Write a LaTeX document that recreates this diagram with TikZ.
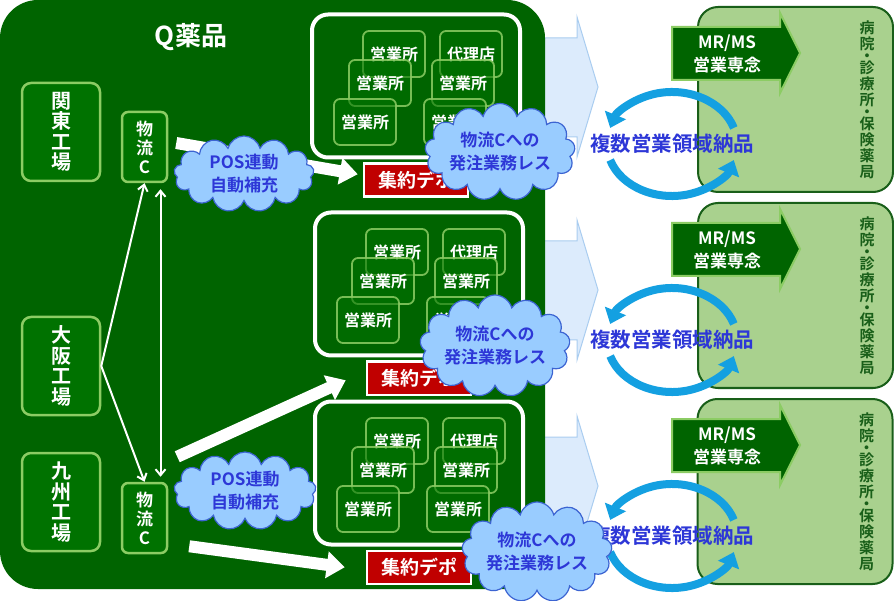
\documentclass[tikz,border=0pt]{standalone}
\usepackage{fontspec}
\setmainfont{Noto Sans CJK JP}[BoldFont={Noto Sans CJK JP Bold}]
\usepackage{tikz}
\usetikzlibrary{shapes.symbols,arrows.meta,positioning}
\usepackage{xcolor}
\definecolor{panel}{RGB}{0,100,0}
\definecolor{boxgreen}{RGB}{0,114,0}
\definecolor{lime}{RGB}{140,204,100}
\definecolor{depred}{RGB}{192,0,0}
\definecolor{puff}{RGB}{153,204,255}
\definecolor{puffline}{RGB}{60,100,210}
\definecolor{bluetext}{RGB}{45,55,215}
\definecolor{paleblue}{RGB}{220,235,252}
\definecolor{palerim}{RGB}{170,205,240}
\definecolor{clinic}{RGB}{169,209,142}
\definecolor{clinicrim}{RGB}{25,95,25}
\definecolor{loopblue}{RGB}{20,160,225}
\newcommand\fsz[2]{\fontsize{#1}{#2}\selectfont}

\begin{document}
\begin{tikzpicture}[x=1pt,y=-1pt,
  factory/.style={draw=lime,fill=boxgreen,line width=2.5pt,rounded corners=9pt,
    minimum width=78pt,minimum height=98pt,inner sep=0pt,text=white,
    font=\bfseries\fsz{20}{20.5},align=center},
  lc/.style={draw=lime,fill=boxgreen,line width=2.5pt,rounded corners=6pt,
    minimum width=45pt,minimum height=70pt,inner sep=0pt,text=white,
    font=\bfseries\fsz{17}{19},align=center},
  frame/.style={draw=white,line width=4pt,rounded corners=16pt,
    minimum width=208pt,minimum height=143pt},
  office/.style={draw=lime,draw opacity=0.85,fill=boxgreen,fill opacity=0.55,
    text opacity=1,line width=1.8pt,rounded corners=6pt,minimum width=62pt,
    minimum height=46pt,inner sep=0pt,text=white,font=\bfseries\fsz{16}{18}},
  depot/.style={fill=depred,draw=white,line width=2.5pt,minimum width=104pt,
    minimum height=33pt,inner sep=0pt,text=white,font=\bfseries\fsz{19}{20}},
  thinarr/.style={draw=white,line width=2pt,-{Straight Barb[length=6pt,width=10pt]}},
  fatarrow/.style={draw=white,line width=12pt,-{Triangle[length=18pt,width=26pt]}},
  bubble/.style={cloud,cloud puffs=13,cloud ignores aspect,draw=puffline,fill=puff,
    line width=1.2pt,inner sep=0pt,text=bluetext,font=\bfseries\fsz{17}{23},align=center},
  clinicbox/.style={draw=clinicrim,fill=clinic,line width=2pt,rounded corners=20pt,
    minimum width=195pt,minimum height=185pt},
  hosp/.style={text=clinicrim,font=\bfseries\fsz{15}{16},align=center,inner sep=0pt},
  mrarrow/.style={draw=lime,fill=panel,line width=2pt},
  loop/.style={draw=loopblue,line width=8pt,-{Triangle[length=14pt,width=22pt]}}]

\useasboundingbox (0,0) rectangle (894,601);
\fill[white] (0,0) rectangle (894,601);

\foreach \dy in {0,203,399}
  \filldraw[fill=paleblue,draw=palerim,line width=1pt]
    (530,{38+\dy}) -- (577,{38+\dy}) -- (577,{17+\dy}) -- (598,{87+\dy})
    -- (577,{157+\dy}) -- (577,{137+\dy}) -- (530,{137+\dy}) -- cycle;

\fill[panel,rounded corners=38pt] (0,0) rectangle (545,589);
\node[text=white,font=\bfseries\fsz{26}{30}] (title) at (191,37) {Q薬品};

\node[factory] (kanto) at (61,132) {関\\東\\工\\場};
\node[factory] (osaka) at (61,366) {大\\阪\\工\\場};
\node[factory] (kyushu) at (61,502) {九\\州\\工\\場};
\node[lc] (lc1) at (144.5,147) {物\\流\\C};
\node[lc] (lc2) at (144.5,518) {物\\流\\C};

\node[frame] (grp1) at (416,86) {};
\node[frame] (grp2) at (419,284) {};
\node[frame] (grp3) at (419,473) {};
\foreach \g in {1,2,3}{
  \node[office] (off\g-1) at ([shift={(-22,-32)}]grp\g) {営業所};
  \node[office] (off\g-2) at ([shift={(55,-32)}]grp\g) {代理店};
  \node[office] (off\g-3) at ([shift={(-36,-3)}]grp\g) {営業所};
  \node[office] (off\g-4) at ([shift={(47,-3)}]grp\g) {営業所};
  \node[office] (off\g-5) at ([shift={(-51,36)}]grp\g) {営業所};
  \node[office] (off\g-6) at ([shift={(39,36)}]grp\g) {営業所};
}
\node[depot,below=3pt of grp1] (depo1) {集約デポ};
\node[depot,below=3pt of grp2] (depo2) {集約デポ};
\node[depot,below=3pt of grp3] (depo3) {集約デポ};

\draw[thinarr] (osaka.east) -- (lc1.south);
\draw[thinarr] (osaka.east) -- (lc2.north);
\draw[thinarr,{Straight Barb[length=6pt,width=10pt]}-{Straight Barb[length=6pt,width=10pt]},
  shorten <=6pt,shorten >=5pt] ([xshift=16pt]lc1.south) -- ([xshift=16pt]lc2.north);

\draw[fatarrow] ([shift={(8,-4)}]lc1.east) -- ([shift={(-5,-6)}]depo1.west);
\draw[fatarrow] ([shift={(9,-25)}]lc2.north east) -- ([shift={(-20,2)}]depo2.west);
\draw[fatarrow] ([shift={(21,-8)}]lc2.south east) -- ([shift={(-21,0)}]depo3.west);

\node[bubble,minimum width=140pt,minimum height=76pt] (pos1) at (244,174) {POS連動\\自動補充};
\node[bubble,minimum width=142pt,minimum height=78pt] (pos2) at (245,491) {POS連動\\自動補充};

\node[clinicbox] (cl1) at (795.5,99.5) {};
\node[clinicbox] (cl2) at (795.5,295.5) {};
\node[clinicbox] (cl3) at (795,491.5) {};
\foreach \c in {1,2,3}
  \node[hosp] (hosp\c) at ([xshift=-27pt]cl\c.east)
    {病\\院\\[-4pt]・\\[-4pt]診\\療\\所\\[-4pt]・\\[-4pt]保\\険\\薬\\局};

\foreach \dy/\n in {0/1,196/2,392/3}{
  \filldraw[mrarrow] (672,{27+\dy}) -- (780,{27+\dy}) -- (780,{13+\dy}) -- (800,{53+\dy})
    -- (780,{93+\dy}) -- (780,{80+\dy}) -- (672,{80+\dy}) -- cycle;
  \node[text=white,font=\bfseries\fsz{17}{23},align=center] (mr\n) at (727,{54+\dy}) {MR/MS\\営業専念};
  \coordinate (ring\n) at (672,{144+\dy});
  \draw[loop] ([shift={(-18:65 and 52)}]ring\n)
    arc[start angle=-18,end angle=-162,x radius=65,y radius=52];
  \draw[loop] ([shift={(162:65 and 52)}]ring\n)
    arc[start angle=162,end angle=18,x radius=65,y radius=52];
  \node[text=bluetext,font=\bfseries\fsz{20.5}{24}] (multi\n) at (ring\n) {複数営業領域納品};
}

\node[bubble,minimum width=125pt,minimum height=97pt] (less1) at (500,152) {物流Cへの\\発注業務レス};
\node[bubble,minimum width=124pt,minimum height=102pt] (less2) at (495,346) {物流Cへの\\発注業務レス};
\node[bubble,minimum width=125pt,minimum height=100pt] (less3) at (537,552) {物流Cへの\\発注業務レス};
\end{tikzpicture}
\end{document}
